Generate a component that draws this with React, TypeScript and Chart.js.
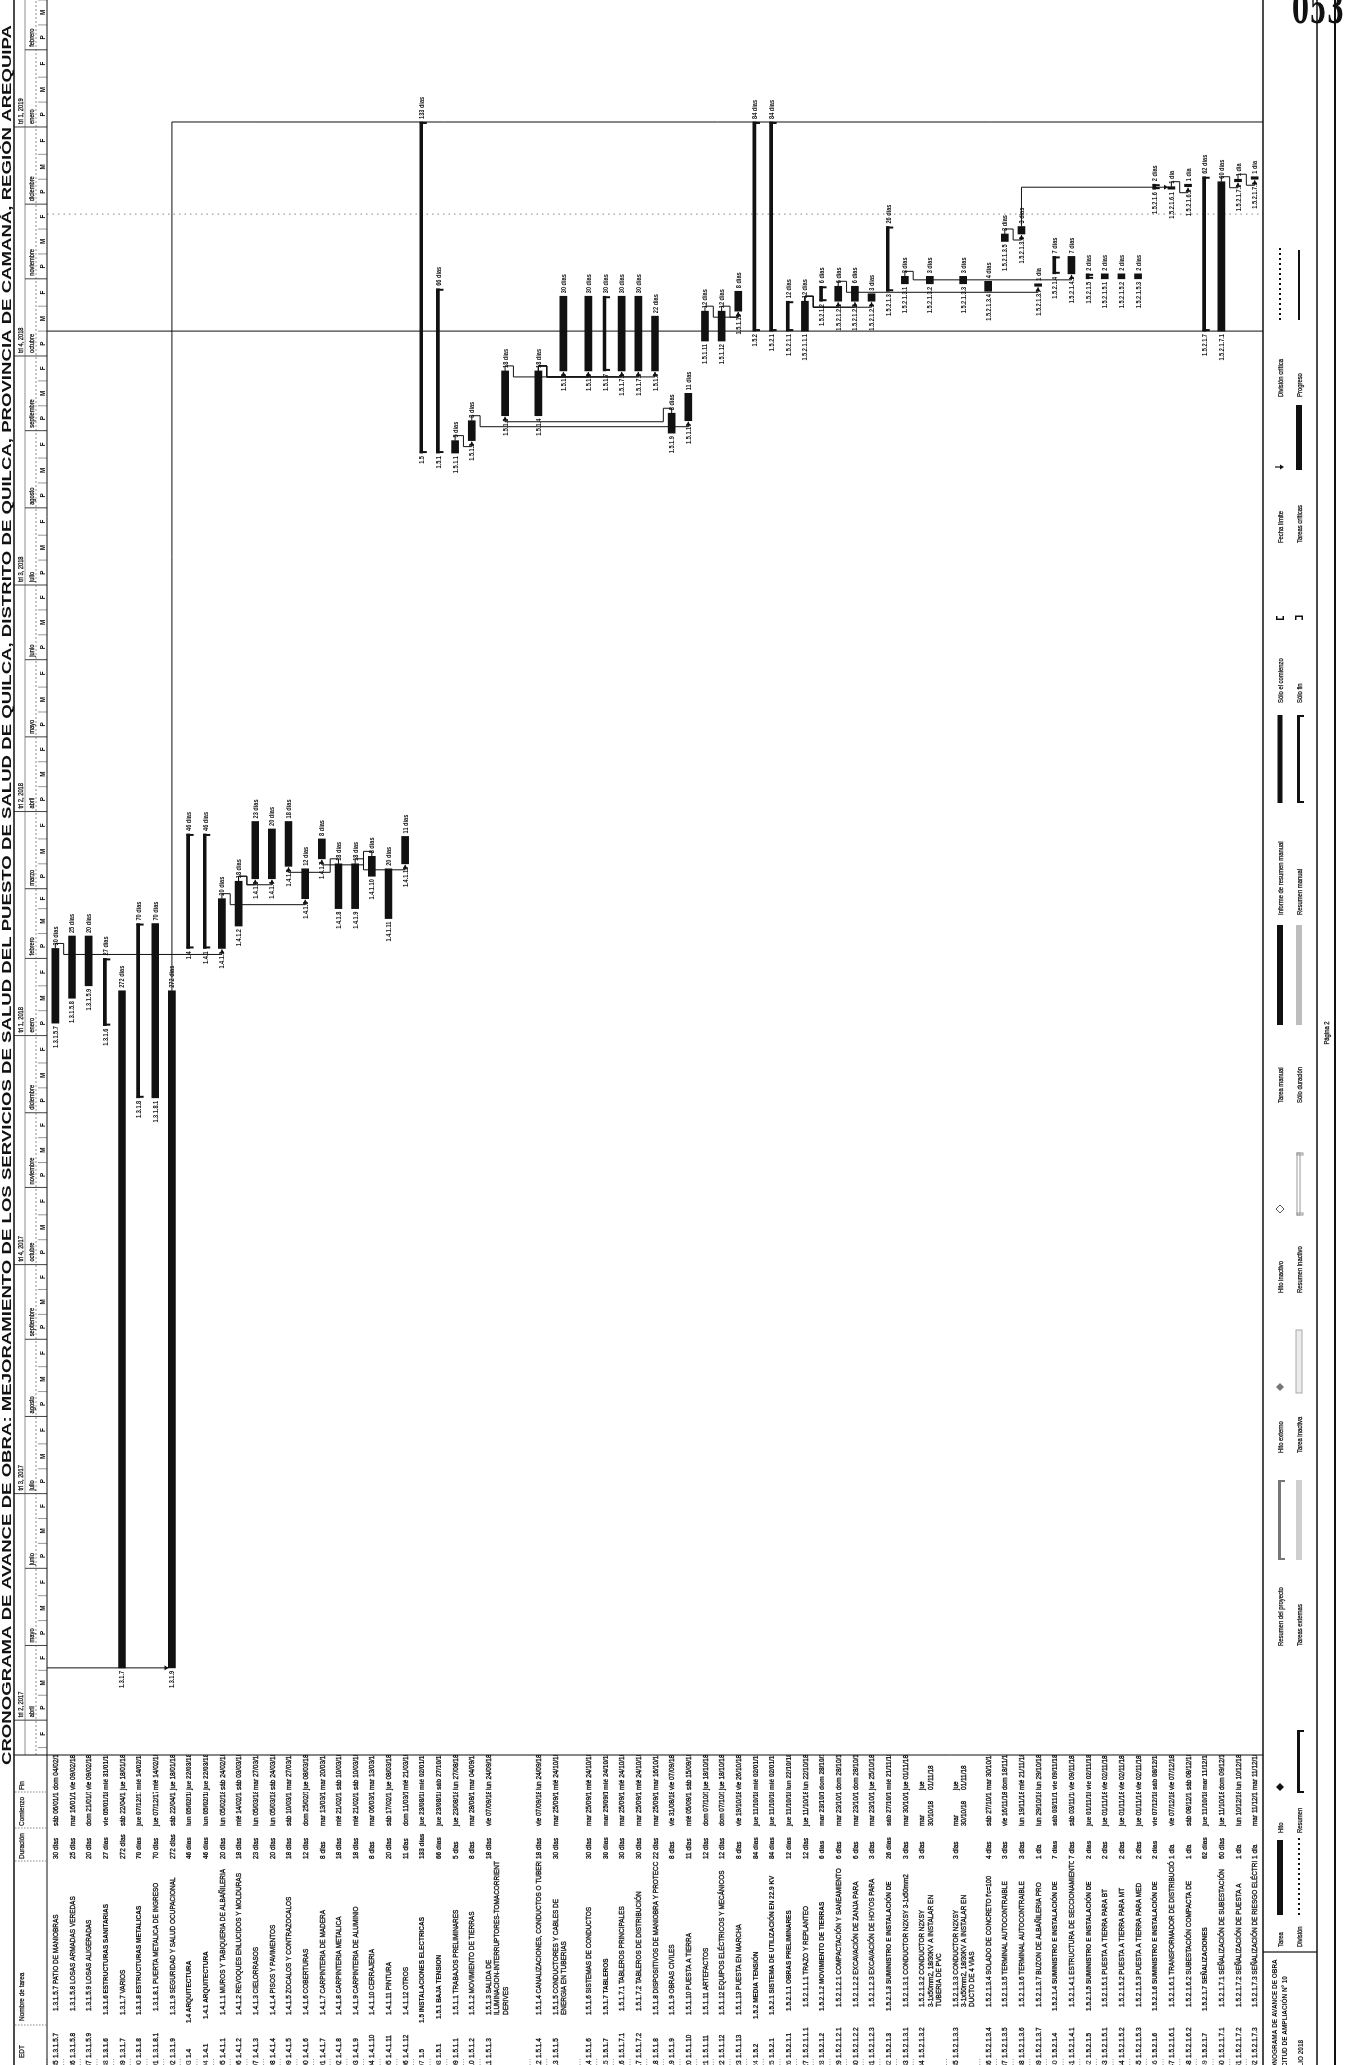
import React, { useEffect, useRef } from "react";
import { Chart, registerables } from "chart.js";

Chart.register(...registerables);

// ---------------- page geometry (unrotated landscape page, later rotated -90deg) ----------------
const PAGE_W = 2065;
const PAGE_H = 1351;
const TABLE_W = 310;
const ROWS_TOP = 47;
const ROWS_BOTTOM = 1263;
const FONT = '"Liberation Sans", Arial, Helvetica, sans-serif';
const INK = "#111111";

// ---------------- texts ----------------
const titleText =
  "CRONOGRAMA DE AVANCE DE OBRA: MEJORAMIENTO DE LOS SERVICIOS DE SALUD DEL PUESTO DE SALUD DE QUILCA, DISTRITO DE QUILCA, PROVINCIA DE CAMANÁ, REGIÓN AREQUIPA";
const projectLines = ["CRONOGRAMA DE AVANCE DE OBRA", "SOLICITUD DE AMPLIACIÓN Nº 10", "JULIO 2018"];
const pageLabel = "Página 2";
const stampText = "053";
const tableHeaders = ["EDT", "Nombre de tarea", "Duración", "Comienzo", "Fin"];
const monthNames = ["enero", "febrero", "marzo", "abril", "mayo", "junio", "julio", "agosto", "septiembre", "octubre", "noviembre", "diciembre"];
const thirdLabels = ["P", "M", "F"];
const quarterPrefix = "tri";
const firstRowId = 85;
const timescaleStart = "18/03/17";
const timescaleEnd = "21/02/19";
const dottedLineDate = "27/11/18";

// ---------------- task table ----------------
const edtCodes = [
  "1.3.1.5.7", "1.3.1.5.8", "1.3.1.5.9", "1.3.1.6", "1.3.1.7", "1.3.1.8", "1.3.1.8.1", "1.3.1.9",
  "1.4", "1.4.1", "1.4.1.1", "1.4.1.2", "1.4.1.3", "1.4.1.4", "1.4.1.5", "1.4.1.6", "1.4.1.7",
  "1.4.1.8", "1.4.1.9", "1.4.1.10", "1.4.1.11", "1.4.1.12",
  "1.5", "1.5.1", "1.5.1.1", "1.5.1.2", "1.5.1.3", "1.5.1.4", "1.5.1.5", "1.5.1.6", "1.5.1.7", "1.5.1.7.1", "1.5.1.7.2", "1.5.1.8",
  "1.5.1.9", "1.5.1.10", "1.5.1.11", "1.5.1.12", "1.5.1.13",
  "1.5.2", "1.5.2.1", "1.5.2.1.1", "1.5.2.1.1.1", "1.5.2.1.2", "1.5.2.1.2.1", "1.5.2.1.2.2", "1.5.2.1.2.3",
  "1.5.2.1.3", "1.5.2.1.3.1", "1.5.2.1.3.2", "1.5.2.1.3.3", "1.5.2.1.3.4", "1.5.2.1.3.5", "1.5.2.1.3.6", "1.5.2.1.3.7",
  "1.5.2.1.4", "1.5.2.1.4.1", "1.5.2.1.5", "1.5.2.1.5.1", "1.5.2.1.5.2", "1.5.2.1.5.3",
  "1.5.2.1.6", "1.5.2.1.6.1", "1.5.2.1.6.2", "1.5.2.1.7", "1.5.2.1.7.1", "1.5.2.1.7.2", "1.5.2.1.7.3",
];

const taskNames = [
  "1.3.1.5.7 PATIO DE MANIOBRAS",
  "1.3.1.5.8 LOSAS ARMADAS VEREDAS",
  "1.3.1.5.9 LOSAS ALIGERADAS",
  "1.3.1.6 ESTRUCTURAS SANITARIAS",
  "1.3.1.7 VARIOS",
  "1.3.1.8 ESTRUCTURAS METALICAS",
  "1.3.1.8.1 PUERTA METALICA DE INGRESO",
  "1.3.1.9 SEGURIDAD Y SALUD OCUPACIONAL",
  "1.4 ARQUITECTURA",
  "1.4.1 ARQUITECTURA",
  "1.4.1.1 MUROS Y TABIQUERIA DE ALBAÑILERIA",
  "1.4.1.2 REVOQUES ENLUCIDOS Y MOLDURAS",
  "1.4.1.3 CIELORRASOS",
  "1.4.1.4 PISOS Y PAVIMENTOS",
  "1.4.1.5 ZOCALOS Y CONTRAZOCALOS",
  "1.4.1.6 COBERTURAS",
  "1.4.1.7 CARPINTERIA DE MADERA",
  "1.4.1.8 CARPINTERIA METALICA",
  "1.4.1.9 CARPINTERIA DE ALUMINIO",
  "1.4.1.10 CERRAJERIA",
  "1.4.1.11 PINTURA",
  "1.4.1.12 OTROS",
  "1.5 INSTALACIONES ELECTRICAS",
  "1.5.1 BAJA TENSION",
  "1.5.1.1 TRABAJOS PRELIMINARES",
  "1.5.1.2 MOVIMIENTO DE TIERRAS",
  "1.5.1.3 SALIDA DE\nILUMINACION-INTERRUPTORES-TOMACORRIENTES\nDERIVES",
  "1.5.1.4 CANALIZACIONES, CONDUCTOS O TUBERIAS",
  "1.5.1.5 CONDUCTORES Y CABLES DE\nENERGIA EN TUBERIAS",
  "1.5.1.6 SISTEMAS DE CONDUCTOS",
  "1.5.1.7 TABLEROS",
  "1.5.1.7.1 TABLEROS PRINCIPALES",
  "1.5.1.7.2 TABLEROS DE DISTRIBUCIÓN",
  "1.5.1.8 DISPOSITIVOS DE MANIOBRA Y PROTECCIÓN",
  "1.5.1.9 OBRAS CIVILES",
  "1.5.1.10 PUESTA A TIERRA",
  "1.5.1.11 ARTEFACTOS",
  "1.5.1.12 EQUIPOS ELÉCTRICOS Y MECÁNICOS",
  "1.5.1.13 PUESTA EN MARCHA",
  "1.5.2 MEDIA TENSIÓN",
  "1.5.2.1 SISTEMA DE UTILIZACIÓN EN 22.9 KV",
  "1.5.2.1.1 OBRAS PRELIMINARES",
  "1.5.2.1.1.1 TRAZO Y REPLANTEO",
  "1.5.2.1.2 MOVIMIENTO DE TIERRAS",
  "1.5.2.1.2.1 COMPACTACIÓN Y SANEAMIENTO",
  "1.5.2.1.2.2 EXCAVACIÓN DE ZANJA PARA",
  "1.5.2.1.2.3 EXCAVACIÓN DE HOYOS PARA",
  "1.5.2.1.3 SUMINISTRO E INSTALACIÓN DE",
  "1.5.2.1.3.1 CONDUCTOR N2XSY 3-1x50mm2",
  "1.5.2.1.3.2 CONDUCTOR N2XSY\n3-1x50mm2, 18/30KV A INSTALAR EN\nTUBERIA DE PVC",
  "1.5.2.1.3.3 CONDUCTOR N2XSY\n3-1x50mm2, 18/30KV A INSTALAR EN\nDUCTO DE 4 VIAS",
  "1.5.2.1.3.4 SOLADO DE CONCRETO f'c=100",
  "1.5.2.1.3.5 TERMINAL AUTOCONTRAIBLE",
  "1.5.2.1.3.6 TERMINAL AUTOCONTRAIBLE",
  "1.5.2.1.3.7 BUZON DE ALBAÑILERIA PRO",
  "1.5.2.1.4 SUMINISTRO E INSTALACIÓN DE",
  "1.5.2.1.4.1 ESTRUCTURA DE SECCIONAMIENTO",
  "1.5.2.1.5 SUMINISTRO E INSTALACIÓN DE",
  "1.5.2.1.5.1 PUESTA A TIERRA PARA BT",
  "1.5.2.1.5.2 PUESTA A TIERRA PARA MT",
  "1.5.2.1.5.3 PUESTA A TIERRA PARA MED",
  "1.5.2.1.6 SUMINISTRO E INSTALACIÓN DE",
  "1.5.2.1.6.1 TRANSFORMADOR DE DISTRIBUCIÓN",
  "1.5.2.1.6.2 SUBESTACIÓN COMPACTA DE",
  "1.5.2.1.7 SEÑALIZACIONES",
  "1.5.2.1.7.1 SEÑALIZACIÓN DE SUBESTACIÓN",
  "1.5.2.1.7.2 SEÑALIZACIÓN DE PUESTA A",
  "1.5.2.1.7.3 SEÑALIZACIÓN DE RIESGO ELÉCTRICO",
];

// row height (in standard rows) for rows whose text wraps
const wrappedRowHeights: Record<number, number> = { 26: 3, 28: 2, 49: 2, 50: 2 };

const durations = [
  "30 días", "25 días", "20 días", "27 días", "272 días", "70 días", "70 días", "272 días",
  "46 días", "46 días", "20 días", "18 días", "23 días", "20 días", "18 días", "12 días", "8 días",
  "18 días", "18 días", "8 días", "20 días", "11 días",
  "133 días", "66 días", "5 días", "8 días", "18 días", "18 días", "30 días", "30 días", "30 días", "30 días", "30 días", "22 días",
  "8 días", "11 días", "12 días", "12 días", "8 días",
  "84 días", "84 días", "12 días", "12 días", "6 días", "6 días", "6 días", "3 días",
  "26 días", "3 días", "3 días", "3 días", "4 días", "3 días", "3 días", "1 día",
  "7 días", "7 días", "2 días", "2 días", "2 días", "2 días",
  "2 días", "1 día", "1 día", "62 días", "60 días", "1 día", "1 día",
];

const startDates = [
  "sáb 06/01/18", "mar 16/01/18", "dom 21/01/18", "vie 05/01/18", "sáb 22/04/17", "jue 07/12/17", "jue 07/12/17", "sáb 22/04/17",
  "lun 05/02/18", "lun 05/02/18", "lun 05/02/18", "mié 14/02/18", "lun 05/03/18", "lun 05/03/18", "sáb 10/03/18", "dom 25/02/18", "mar 13/03/18",
  "mié 21/02/18", "mié 21/02/18", "mar 06/03/18", "sáb 17/02/18", "dom 11/03/18",
  "jue 23/08/18", "jue 23/08/18", "jue 23/08/18", "mar 28/08/18", "vie 07/09/18", "vie 07/09/18", "mar 25/09/18", "mar 25/09/18", "mar 25/09/18", "mar 25/09/18", "mar 25/09/18", "mar 25/09/18",
  "vie 31/08/18", "mié 05/09/18", "dom 07/10/18", "dom 07/10/18", "vie 19/10/18",
  "jue 11/10/18", "jue 11/10/18", "jue 11/10/18", "jue 11/10/18", "mar 23/10/18", "mar 23/10/18", "mar 23/10/18", "mar 23/10/18",
  "sáb 27/10/18", "mar 30/10/18", "mar\n30/10/18", "mar\n30/10/18", "sáb 27/10/18", "vie 16/11/18", "lun 19/11/18", "lun 29/10/18",
  "sáb 03/11/18", "sáb 03/11/18", "jue 01/11/18", "jue 01/11/18", "jue 01/11/18", "jue 01/11/18",
  "vie 07/12/18", "vie 07/12/18", "sáb 08/12/18", "jue 11/10/18", "jue 11/10/18", "lun 10/12/18", "mar 11/12/18",
];

const finishDates = [
  "dom 04/02/18", "vie 09/02/18", "vie 09/02/18", "mié 31/01/18", "jue 18/01/18", "mié 14/02/18", "mié 14/02/18", "jue 18/01/18",
  "jue 22/03/18", "jue 22/03/18", "sáb 24/02/18", "sáb 03/03/18", "mar 27/03/18", "sáb 24/03/18", "mar 27/03/18", "jue 08/03/18", "mar 20/03/18",
  "sáb 10/03/18", "sáb 10/03/18", "mar 13/03/18", "jue 08/03/18", "mié 21/03/18",
  "mié 02/01/19", "sáb 27/10/18", "lun 27/08/18", "mar 04/09/18", "lun 24/09/18", "lun 24/09/18", "mié 24/10/18", "mié 24/10/18", "mié 24/10/18", "mié 24/10/18", "mié 24/10/18", "mar 16/10/18",
  "vie 07/09/18", "sáb 15/09/18", "jue 18/10/18", "jue 18/10/18", "vie 26/10/18",
  "mié 02/01/19", "mié 02/01/19", "lun 22/10/18", "lun 22/10/18", "dom 28/10/18", "dom 28/10/18", "dom 28/10/18", "jue 25/10/18",
  "mié 21/11/18", "jue 01/11/18", "jue\n01/11/18", "jue\n01/11/18", "mar 30/10/18", "dom 18/11/18", "mié 21/11/18", "lun 29/10/18",
  "vie 09/11/18", "vie 09/11/18", "vie 02/11/18", "vie 02/11/18", "vie 02/11/18", "vie 02/11/18",
  "sáb 08/12/18", "vie 07/12/18", "sáb 08/12/18", "mar 11/12/18", "dom 09/12/18", "lun 10/12/18", "mar 11/12/18",
];

// 1 = summary task (bold row, bracket bar)
const summaryFlags = [
  0, 0, 0, 1, 0, 1, 0, 0,
  1, 1, 0, 0, 0, 0, 0, 0, 0,
  0, 0, 0, 0, 0,
  1, 1, 0, 0, 0, 0, 0, 0, 1, 0, 0, 0,
  0, 0, 0, 0, 0,
  1, 1, 1, 0, 1, 0, 0, 0,
  1, 0, 0, 0, 0, 0, 0, 0,
  1, 0, 1, 0, 0, 0,
  1, 0, 0, 1, 0, 0, 0,
];

// finish-to-start links between rows [predecessor, successor]
const links = [
  [0, 10], [10, 15], [11, 12], [11, 13], [17, 14], [18, 21], [19, 16],
  [24, 25], [25, 35], [34, 26], [26, 28], [27, 29], [27, 31], [27, 32], [27, 33],
  [36, 38], [37, 38], [42, 44], [42, 45], [42, 46], [44, 54], [48, 56], [52, 53], [53, 62], [62, 63], [65, 66], [66, 67],
];
// links coming from / going to other pages (row -1 = page edge)
const pageLinks = [
  { date: "22/04/17", fromRow: -1, toRow: 7 },
  { date: "11/10/18", fromRow: -1, toRow: -1 },
  { date: "03/01/19", fromRow: 7, toRow: -1 },
];

const legendRow1 = [
  ["Tarea", "bar"], ["Hito", "milestone"], ["Resumen del proyecto", "projsum"], ["Hito externo", "extmile"], ["Hito inactivo", "inmile"],
  ["Tarea manual", "manual"], ["Informe de resumen manual", "manrollup"], ["Sólo el comienzo", "startonly"], ["Fecha límite", "deadline"], ["División crítica", "critsplit"],
];
const legendRow2 = [
  ["División", "split"], ["Resumen", "summary"], ["Tareas externas", "exttask"], ["Tarea inactiva", "intask"], ["Resumen inactivo", "insum"],
  ["Sólo duración", "duronly"], ["Resumen manual", "mansum"], ["Sólo fin", "finishonly"], ["Tareas críticas", "crit"], ["Progreso", "progress"],
];

// ---------------- helpers ----------------
const dayOf = (s: string) => {
  const m = /(\d{2})\/(\d{2})\/(\d{2})/.exec(s) as RegExpExecArray;
  return Date.UTC(2000 + Number(m[3]), Number(m[2]) - 1, Number(m[1])) / 86400000;
};

const rowUnits = taskNames.map((_, i) => wrappedRowHeights[i] ?? 1);
const rowOffsets: number[] = [];
let _acc = 0;
rowUnits.forEach((u) => {
  rowOffsets.push(_acc);
  _acc += u;
});
const totalUnits = _acc;
const rowCenter = (i: number) => rowOffsets[i] + rowUnits[i] / 2;
const barStart = (i: number) => dayOf(startDates[i]);
const barEnd = (i: number) => dayOf(finishDates[i]) + 1;

function drawText(ctx: any, s: string, x: number, y: number, size: number, o: any = {}) {
  ctx.save();
  ctx.font = `${o.bold ? "bold " : ""}${size}px ${FONT}`;
  ctx.fillStyle = o.color || INK;
  ctx.textBaseline = "alphabetic";
  ctx.textAlign = "left";
  const c = o.condense ?? 0.86;
  const w = ctx.measureText(s).width * c;
  let x0 = x;
  if (o.align === "right") x0 = x - w;
  else if (o.align === "center") x0 = x - w / 2;
  ctx.translate(x0, y);
  ctx.scale(c, 1);
  ctx.fillText(s, 0, 0);
  if (o.heavy) {
    ctx.strokeStyle = o.color || INK;
    ctx.lineWidth = o.heavy;
    ctx.strokeText(s, 0, 0);
  }
  ctx.restore();
}

function clipped(ctx: any, x: number, y: number, w: number, h: number, fn: () => void) {
  ctx.save();
  ctx.beginPath();
  ctx.rect(x, y, w, h);
  ctx.clip();
  fn();
  ctx.restore();
}

function line(ctx: any, x1: number, y1: number, x2: number, y2: number, w = 1, color = INK, dash: number[] = []) {
  ctx.save();
  ctx.strokeStyle = color;
  ctx.lineWidth = w;
  ctx.setLineDash(dash);
  ctx.beginPath();
  ctx.moveTo(x1, y1);
  ctx.lineTo(x2, y2);
  ctx.stroke();
  ctx.restore();
}

function arrowHead(ctx: any, x: number, y: number, dir: string) {
  ctx.save();
  ctx.fillStyle = INK;
  ctx.beginPath();
  if (dir === "down") {
    ctx.moveTo(x - 2.5, y - 4); ctx.lineTo(x + 2.5, y - 4); ctx.lineTo(x, y);
  } else if (dir === "up") {
    ctx.moveTo(x - 2.5, y + 4); ctx.lineTo(x + 2.5, y + 4); ctx.lineTo(x, y);
  } else {
    ctx.moveTo(x - 4, y - 2.5); ctx.lineTo(x - 4, y + 2.5); ctx.lineTo(x, y);
  }
  ctx.closePath();
  ctx.fill();
  ctx.restore();
}

function bracket(ctx: any, a: number, b: number, y: number, color = INK, outline = false) {
  ctx.save();
  if (outline) {
    ctx.strokeStyle = color;
    ctx.lineWidth = 1;
    ctx.strokeRect(a, y - 2, b - a, 3);
    ctx.strokeRect(a, y - 2, 2, 6);
    ctx.strokeRect(b - 2, y - 2, 2, 6);
  } else {
    ctx.fillStyle = color;
    ctx.fillRect(a, y - 2, b - a, 3);
    ctx.fillRect(a, y - 2, 2, 7);
    ctx.fillRect(b - 2, y - 2, 2, 7);
  }
  ctx.restore();
}

function diamond(ctx: any, x: number, y: number, r: number, fill: string | null, stroke?: string) {
  ctx.save();
  ctx.beginPath();
  ctx.moveTo(x, y - r); ctx.lineTo(x + r, y); ctx.lineTo(x, y + r); ctx.lineTo(x - r, y);
  ctx.closePath();
  if (fill) { ctx.fillStyle = fill; ctx.fill(); }
  if (stroke) { ctx.strokeStyle = stroke; ctx.lineWidth = 1; ctx.stroke(); }
  ctx.restore();
}

function dots(ctx: any, a: number, b: number, y: number) {
  ctx.save();
  ctx.fillStyle = INK;
  for (let x = a; x <= b; x += 5) ctx.fillRect(x, y - 1, 2, 2);
  ctx.restore();
}

// ---------------- drawing parts ----------------
function drawLinks(chart: any) {
  const ctx = chart.ctx;
  const xs = chart.scales.x;
  const ys = chart.scales.y;
  const rowPx = ys.getPixelForValue(1) - ys.getPixelForValue(0);
  const xd = xs.getPixelForValue(dayOf(dottedLineDate));
  line(ctx, xd, ROWS_TOP, xd, ROWS_BOTTOM, 0.9, "#777", [1.5, 4]);
  ctx.save();
  ctx.strokeStyle = INK;
  ctx.lineWidth = 1;
  links.forEach(([p, s]) => {
    const pe = xs.getPixelForValue(barEnd(p));
    const py = ys.getPixelForValue(rowCenter(p));
    const ss = xs.getPixelForValue(barStart(s));
    const sy = ys.getPixelForValue(rowCenter(s));
    const dir = sy > py ? 1 : -1;
    ctx.beginPath();
    if (ss - pe >= 4) {
      const ax = ss + 2;
      const ay = sy - dir * 3.5;
      ctx.moveTo(pe, py); ctx.lineTo(ax, py); ctx.lineTo(ax, ay);
      ctx.stroke();
      arrowHead(ctx, ax, ay, dir > 0 ? "down" : "up");
    } else {
      const ym = py + dir * rowPx * 0.5;
      ctx.moveTo(pe, py); ctx.lineTo(pe + 5, py); ctx.lineTo(pe + 5, ym);
      ctx.lineTo(ss - 6, ym); ctx.lineTo(ss - 6, sy); ctx.lineTo(ss - 1, sy);
      ctx.stroke();
      arrowHead(ctx, ss - 1, sy, "right");
    }
  });
  pageLinks.forEach((l) => {
    const x = xs.getPixelForValue(dayOf(l.date));
    let y0 = ROWS_TOP;
    if (l.fromRow >= 0) {
      const pe = xs.getPixelForValue(barEnd(l.fromRow));
      y0 = ys.getPixelForValue(rowCenter(l.fromRow));
      line(ctx, pe, y0, x, y0);
    }
    let y1 = ROWS_BOTTOM;
    if (l.toRow >= 0) y1 = ys.getPixelForValue(rowCenter(l.toRow)) - 3.5;
    line(ctx, x, y0, x, y1);
    if (l.toRow >= 0) arrowHead(ctx, x, y1, "down");
  });
  ctx.restore();
}

function drawBarDecor(chart: any) {
  const ctx = chart.ctx;
  const xs = chart.scales.x;
  const ys = chart.scales.y;
  edtCodes.forEach((code, i) => {
    const a = xs.getPixelForValue(barStart(i));
    const b = xs.getPixelForValue(barEnd(i));
    const y = ys.getPixelForValue(rowCenter(i));
    if (summaryFlags[i]) {
      ctx.save();
      ctx.fillStyle = INK;
      ctx.fillRect(a, y - 2, 2, 7);
      ctx.fillRect(b - 2, y - 2, 2, 7);
      ctx.restore();
    }
    drawText(ctx, code, a - 3, y + 2.5, 7, { bold: true, align: "right", condense: 0.8 });
    drawText(ctx, durations[i], b + 3, y + 2.5, 7, { bold: true, condense: 0.8 });
  });
}

function drawTimescale(chart: any) {
  const ctx = chart.ctx;
  const xs = chart.scales.x;
  const L = chart.chartArea.left;
  const R = chart.chartArea.right;
  const t1 = 14, t2 = 25, t3 = 36, t4 = ROWS_TOP;
  clipped(ctx, L, t1, R - L, t4 - t1, () => {
    for (let yr = 2017; yr <= 2019; yr++) {
      for (let m = 0; m < 12; m++) {
        const d0 = Date.UTC(yr, m, 1) / 86400000;
        const dn = Date.UTC(yr, m + 1, 1) / 86400000;
        const x0 = xs.getPixelForValue(d0);
        if (x0 > R + 2 || xs.getPixelForValue(dn) < L) continue;
        line(ctx, x0, t2, x0, t4, 0.8);
        if (m % 3 === 0) {
          line(ctx, x0, t1, x0, t2, 0.8);
          if (x0 >= L) drawText(ctx, `${quarterPrefix} ${m / 3 + 1}, ${yr}`, x0 + 3, t2 - 2.5, 7, { condense: 0.82, heavy: 0.25 });
        }
        if (x0 >= L) drawText(ctx, monthNames[m], x0 + 3, t3 - 2.5, 7, { condense: 0.82, heavy: 0.25 });
        const starts = [1, 11, 21];
        starts.forEach((dd, k) => {
          const a = xs.getPixelForValue(Date.UTC(yr, m, dd) / 86400000);
          const b = k < 2 ? xs.getPixelForValue(Date.UTC(yr, m, starts[k + 1]) / 86400000) : xs.getPixelForValue(dn);
          if (k > 0) line(ctx, a, t3 + 2, a, t4, 0.6, "#555");
          const c = (a + b) / 2;
          if (c > L && c < R) drawText(ctx, thirdLabels[k], c, t4 - 2.5, 7, { bold: true, align: "center", condense: 0.9 });
        });
      }
    }
  });
  line(ctx, L, t2, R, t2, 0.6, "#444");
  line(ctx, L, t3, R, t3, 0.6, "#444", [2, 2]);
}

function drawTable(chart: any) {
  const ctx = chart.ctx;
  const ys = chart.scales.y;
  const colX = [5, 40, 204, 237, 273, TABLE_W];
  const tx = [7, 42, 206, 239, 275];
  tableHeaders.forEach((h, k) => drawText(ctx, h, tx[k] + (k === 1 ? 2 : 0), 24, 7.5, { condense: 0.86, heavy: 0.25 }));
  [colX[1], colX[2], colX[3], colX[4]].forEach((x) => line(ctx, x, 15, x, ROWS_TOP - 1, 0.7, "#555", [1.5, 1.5]));
  edtCodes.forEach((code, i) => {
    const top = ys.getPixelForValue(rowOffsets[i]);
    const h = ys.getPixelForValue(rowOffsets[i] + rowUnits[i]) - top;
    const base = top + 11;
    const bold = !!summaryFlags[i];
    const heavy = bold ? 0.15 : 0.3;
    const level = code.split(".").length;
    const indent = Math.max(0, level - 2) * 4;
    clipped(ctx, 0, top, colX[0], h, () => drawText(ctx, String(firstRowId + i), 4.5, base, 7.5, { align: "right", heavy }));
    line(ctx, 0, top, 6, top, 0.7, "#666", [1, 1.5]);
    clipped(ctx, colX[0], top, colX[1] - colX[0], h, () => drawText(ctx, code, tx[0], base, 7.5, { bold, heavy }));
    clipped(ctx, colX[1], top, colX[2] - colX[1], h, () => {
      taskNames[i].split("\n").forEach((ln, j) => drawText(ctx, ln, tx[1] + indent, base + j * 8.4, 7.5, { bold, heavy }));
    });
    clipped(ctx, colX[2], top, colX[3] - colX[2], h, () => drawText(ctx, durations[i], tx[2], base, 7.5, { bold, heavy }));
    clipped(ctx, colX[3], top, colX[4] - colX[3], h, () => {
      startDates[i].split("\n").forEach((ln, j) => drawText(ctx, ln, tx[3], base + j * 8.4, 7.5, { bold, heavy }));
    });
    clipped(ctx, colX[4], top, colX[5] - colX[4], h, () => {
      finishDates[i].split("\n").forEach((ln, j) => drawText(ctx, ln, tx[4], base + j * 8.4, 7.5, { bold, heavy }));
    });
  });
}

function drawSample(ctx: any, kind: string, a: number, b: number, y: number) {
  ctx.save();
  switch (kind) {
    case "bar":
    case "crit":
    case "manual":
      ctx.fillStyle = INK; ctx.fillRect(a, y - 3, b - a, 6); break;
    case "manrollup":
      ctx.fillStyle = INK; ctx.fillRect(a, y - 2.5, b - a, 5); break;
    case "split":
    case "critsplit":
      dots(ctx, a, b, y); break;
    case "milestone":
      diamond(ctx, a + 6, y, 4, INK); break;
    case "extmile":
      diamond(ctx, a + 6, y, 4, "#777"); break;
    case "inmile":
      diamond(ctx, a + 6, y, 4, null, "#555"); break;
    case "summary":
    case "mansum":
      bracket(ctx, a, b, y); break;
    case "projsum":
      bracket(ctx, a, b, y, "#777"); break;
    case "insum":
      bracket(ctx, a, b, y, "#999", true); break;
    case "exttask":
      ctx.fillStyle = "#cfcfcf"; ctx.fillRect(a, y - 3, b - a, 6); break;
    case "intask":
      ctx.fillStyle = "#ececec"; ctx.fillRect(a, y - 3, b - a, 6);
      ctx.strokeStyle = "#aaa"; ctx.strokeRect(a, y - 3, b - a, 6); break;
    case "duronly":
      ctx.fillStyle = "#bdbdbd"; ctx.fillRect(a, y - 3, b - a, 6); break;
    case "startonly":
      ctx.fillStyle = INK; ctx.fillRect(a, y - 4, 1.5, 8); ctx.fillRect(a, y - 4, 4, 1.5); ctx.fillRect(a, y + 2.5, 4, 1.5); break;
    case "finishonly":
      ctx.fillStyle = INK; ctx.fillRect(a + 3, y - 4, 1.5, 8); ctx.fillRect(a, y - 4, 4, 1.5); ctx.fillRect(a, y + 2.5, 4, 1.5); break;
    case "deadline":
      line(ctx, a + 3, y - 5, a + 3, y + 1, 1.2); arrowHead(ctx, a + 3, y + 4, "down"); break;
    case "progress":
      ctx.fillStyle = INK; ctx.fillRect(a, y - 1, b - a, 2); break;
  }
  ctx.restore();
}

function drawFooter(chart: any) {
  const ctx = chart.ctx;
  const top = ROWS_BOTTOM;
  const bottom = 1317;
  line(ctx, 0, top, PAGE_W, top, 1.4);
  line(ctx, 0, bottom, PAGE_W, bottom, 1.4);
  line(ctx, 113, top, 113, bottom, 1.2);
  line(ctx, 0, 1335, PAGE_W, 1335, 2.2);
  drawText(ctx, projectLines[0], -13, 1277, 7.5, { bold: true });
  drawText(ctx, projectLines[1], -17, 1287, 7.5, { bold: true });
  drawText(ctx, projectLines[2], -10, 1303, 7.5, { bold: true });
  const cols = [
    [118, 150, 225], [232, 272, 335], [419, 505, 585], [612, 672, 735], [772, 850, 912],
    [962, 1040, 1140], [1150, 1262, 1350], [1362, 1445, 1490], [1522, 1595, 1660], [1668, 1745, 1815],
  ];
  cols.forEach((c, k) => {
    drawText(ctx, legendRow1[k][0], c[0], 1283, 7, { condense: 0.84, heavy: 0.25 });
    drawSample(ctx, legendRow1[k][1], c[1], c[2], 1280);
    drawText(ctx, legendRow2[k][0], c[0], 1302, 7, { condense: 0.84, heavy: 0.25 });
    drawSample(ctx, legendRow2[k][1], c[1], c[2], 1299);
  });
  drawText(ctx, pageLabel, 1032, 1329, 7, { align: "center", condense: 0.84, heavy: 0.25 });
}

function drawFrame(chart: any) {
  const ctx = chart.ctx;
  ctx.save();
  ctx.font = `bold 13px ${FONT}`;
  const w = ctx.measureText(titleText).width;
  ctx.restore();
  drawText(ctx, titleText, 1170, 11, 13, { bold: true, align: "center", condense: 1740 / w });
  line(ctx, 0, 14, PAGE_W, 14, 1.6);
  line(ctx, 0, ROWS_TOP, PAGE_W, ROWS_TOP, 1);
  line(ctx, TABLE_W, 14, TABLE_W, ROWS_BOTTOM, 1);
}

const ganttPlugin = {
  id: "ganttDecor",
  beforeDraw(chart: any) {
    const ctx = chart.ctx;
    ctx.save();
    ctx.fillStyle = "#ffffff";
    ctx.fillRect(0, 0, chart.width, chart.height);
    ctx.restore();
  },
  beforeDatasetsDraw(chart: any) {
    drawLinks(chart);
  },
  afterDatasetsDraw(chart: any) {
    drawBarDecor(chart);
  },
  afterDraw(chart: any) {
    drawTimescale(chart);
    drawTable(chart);
    drawFooter(chart);
    drawFrame(chart);
  },
};

export default function App() {
  const ref = useRef<HTMLCanvasElement | null>(null);
  useEffect(() => {
    const canvas = ref.current as HTMLCanvasElement;
    const taskData: any[] = [];
    const sumData: any[] = [];
    edtCodes.forEach((_, i) => {
      const d = { x: [barStart(i), barEnd(i)], y: rowCenter(i) - (summaryFlags[i] ? 0.03 : 0) };
      (summaryFlags[i] ? sumData : taskData).push(d);
    });
    const chart = new Chart(canvas, {
      type: "bar",
      data: {
        datasets: [
          { data: taskData, backgroundColor: INK, barThickness: 7, grouped: false, borderWidth: 0 } as any,
          { data: sumData, backgroundColor: INK, barThickness: 3, grouped: false, borderWidth: 0 } as any,
        ],
      },
      options: {
        animation: false,
        responsive: false,
        devicePixelRatio: 1,
        indexAxis: "y",
        layout: { padding: { left: TABLE_W, top: ROWS_TOP, right: 0, bottom: PAGE_H - ROWS_BOTTOM } },
        scales: {
          x: { type: "linear", min: dayOf(timescaleStart), max: dayOf(timescaleEnd), display: false, offset: false },
          y: { type: "linear", min: 0, max: totalUnits, reverse: true, display: false, offset: false },
        },
        plugins: { legend: { display: false }, tooltip: { enabled: false } },
      } as any,
      plugins: [ganttPlugin as any],
    });
    return () => chart.destroy();
  }, []);

  return (
    <div style={{ position: "absolute", left: 0, top: 0, width: 1351, height: 2065, overflow: "hidden", background: "#fff" }}>
      <div
        style={{
          position: "absolute",
          left: 0,
          top: PAGE_W,
          width: PAGE_W,
          height: PAGE_H,
          transform: "rotate(-90deg)",
          transformOrigin: "0 0",
        }}
      >
        <canvas ref={ref} width={PAGE_W} height={PAGE_H} style={{ display: "block", width: PAGE_W, height: PAGE_H }} />
      </div>
      <div
        style={{
          position: "absolute",
          left: 1292,
          top: -12,
          fontFamily: '"DejaVu Serif", serif',
          fontWeight: "bold",
          fontSize: 42,
          letterSpacing: 1,
          color: "#111",
          lineHeight: 1,
          transform: "scaleX(0.58)",
          transformOrigin: "0 0",
          whiteSpace: "nowrap",
        }}
      >
        {stampText}
      </div>
    </div>
  );
}
